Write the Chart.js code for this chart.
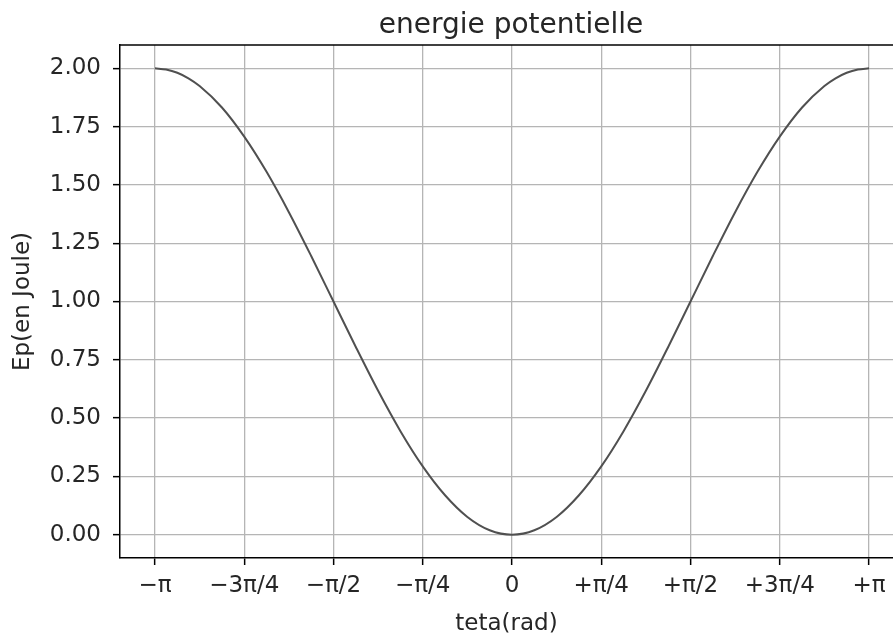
<!DOCTYPE html>
<html>
<head>
<meta charset="utf-8">
<script src="https://cdn.jsdelivr.net/npm/chart.js@4.4.1/dist/chart.umd.min.js"></script>
<style>
  html, body { margin: 0; padding: 0; background: #fff; }
  #wrap { width: 893px; height: 642px; position: relative; }
</style>
</head>
<body>
<div id="wrap"><canvas id="chart-ep"></canvas></div>
<script>
/* energie potentielle — Ep vs teta */

// teta in rad, roughly every pi/16 from -pi to +pi (a bit denser at the ends)
var TETA = [-3.1416,-3.0434,-2.9452,-2.8471,-2.7489,-2.5525,-2.3562,-2.1598,-1.9635,-1.7671,-1.5708,-1.3744,-1.1781,-0.9817,-0.7854,-0.5890,-0.3927,-0.1963,
            0,
            0.1963,0.3927,0.5890,0.7854,0.9817,1.1781,1.3744,1.5708,1.7671,1.9635,2.1598,2.3562,2.5525,2.7489,2.8471,2.9452,3.0434,3.1416];
// Ep
var EP = [2.00,1.995,1.981,1.957,1.924,1.832,1.707,1.556,1.383,1.195,1.00,0.805,0.617,0.444,0.293,0.169,0.076,0.019,
          0.00,
          0.019,0.076,0.169,0.293,0.444,0.617,0.805,1.00,1.195,1.383,1.556,1.707,1.832,1.924,1.957,1.981,1.995,2.00];

var X_TICKS = [-3.1416,-2.3562,-1.5708,-0.7854,0,0.7854,1.5708,2.3562,3.1416];
var X_LABELS = ['\u2212\u03c0','\u22123\u03c0/4','\u2212\u03c0/2','\u2212\u03c0/4','0','+\u03c0/4','+\u03c0/2','+3\u03c0/4','+\u03c0'];
var Y_TICKS = [0, 0.25, 0.5, 0.75, 1.0, 1.25, 1.5, 1.75, 2.0];

var FONT = 'DejaVu Sans';
var TXT = '#262626';

var points = TETA.map(function(t, i) { return { x: t, y: EP[i] }; });

// axes frame top line + title (matplotlib style, centred on the full axes)
var framePlugin = {
  id: 'frame',
  afterDraw: function(chart) {
    var ctx = chart.ctx, a = chart.chartArea;
    ctx.save();
    ctx.strokeStyle = '#000';
    ctx.lineWidth = 1.5;
    ctx.beginPath();
    ctx.moveTo(a.left, a.top);
    ctx.lineTo(a.right, a.top);
    ctx.stroke();
    var x0 = chart.scales.x.getPixelForValue(0);
    ctx.fillStyle = TXT;
    ctx.font = '28px "' + FONT + '"';
    ctx.textAlign = 'center';
    ctx.textBaseline = 'alphabetic';
    ctx.fillText('energie potentielle', x0 - 1, 33);
    ctx.restore();
  }
};

new Chart(document.getElementById('chart-ep'), {
  type: 'line',
  data: {
    datasets: [{
      data: points,
      borderColor: '#505050',
      borderWidth: 2,
      pointRadius: 0,
      fill: false,
      cubicInterpolationMode: 'monotone'
    }]
  },
  options: {
    responsive: true,
    maintainAspectRatio: false,
    animation: false,
    layout: { padding: { top: 45, right: 0, left: 0, bottom: 0 } },
    plugins: { legend: { display: false }, title: { display: false }, tooltip: { enabled: false } },
    scales: {
      x: {
        type: 'linear',
        min: -3.4495,
        max: 3.3527,
        afterBuildTicks: function(s) { s.ticks = X_TICKS.map(function(v) { return { value: v }; }); },
        afterFit: function(s) { s.height = 84; },
        ticks: {
          autoSkip: false,
          maxRotation: 0,
          padding: 7,
          color: TXT,
          font: { family: FONT, size: 23 },
          callback: function(v, i) { return X_LABELS[i]; }
        },
        grid: { color: '#b5b5b5', lineWidth: 1.3, tickLength: 7, tickColor: '#000', tickWidth: 1.5 },
        border: { color: '#000', width: 1.5 },
        title: { display: true, text: 'teta(rad)', color: TXT, font: { family: FONT, size: 23 }, padding: { top: 6 } }
      },
      y: {
        min: -0.1,
        max: 2.1,
        afterBuildTicks: function(s) { s.ticks = Y_TICKS.map(function(v) { return { value: v }; }); },
        afterFit: function(s) { s.width = 120; },
        ticks: {
          padding: 12,
          color: TXT,
          font: { family: FONT, size: 23 },
          callback: function(v) { return v.toFixed(2); }
        },
        grid: { color: '#b5b5b5', lineWidth: 1.3, tickLength: 7, tickColor: '#000', tickWidth: 1.5 },
        border: { color: '#000', width: 1.5 },
        title: { display: true, text: 'Ep(en Joule)', color: TXT, font: { family: FONT, size: 23 }, padding: { top: 9, bottom: 0 } }
      }
    }
  },
  plugins: [framePlugin]
});
</script>
</body>
</html>
